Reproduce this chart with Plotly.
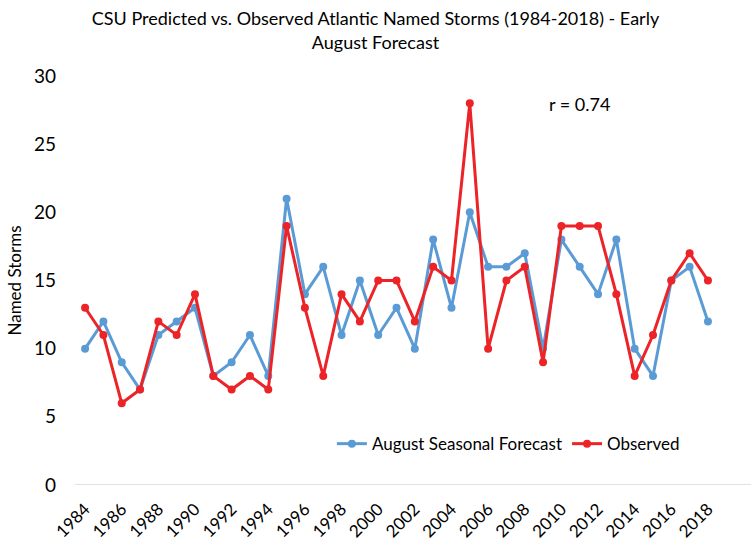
import plotly.graph_objects as go

years = list(range(1984, 2019))
forecast = [10, 12, 9, 7, 11, 12, 13, 8, 9, 11, 8, 21, 14, 16, 11, 15, 11, 13, 10, 18,
            13, 20, 16, 16, 17, 10, 18, 16, 14, 18, 10, 8, 15, 16, 12]
observed = [13, 11, 6, 7, 12, 11, 14, 8, 7, 8, 7, 19, 13, 8, 14, 12, 15, 15, 12, 16,
            15, 28, 10, 15, 16, 9, 19, 19, 19, 14, 8, 11, 15, 17, 15]
tick_years = list(range(1984, 2019, 2))
y_ticks = [0, 5, 10, 15, 20, 25, 30]

FONT = "Lato, Carlito, Calibri, sans-serif"
BLUE = "#5B9BD5"
RED = "#EC2327"

fig = go.Figure()
fig.add_trace(go.Scatter(x=years, y=forecast, mode="lines+markers",
                         name="August Seasonal Forecast",
                         line=dict(color=BLUE, width=3),
                         marker=dict(color=BLUE, size=8)))
fig.add_trace(go.Scatter(x=years, y=observed, mode="lines+markers",
                         name="Observed",
                         line=dict(color=RED, width=3),
                         marker=dict(color=RED, size=8)))

fig.update_layout(
    width=751, height=542,
    margin=dict(l=75, r=0, t=76, b=57),
    paper_bgcolor="white", plot_bgcolor="white",
    font=dict(family=FONT, color="#000000", size=18),
    title=dict(text="CSU Predicted vs. Observed Atlantic Named Storms (1984-2018) - Early<br>August Forecast",
               x=0.5, xanchor="center", y=0.953, yanchor="top",
               font=dict(family=FONT, size=18, color="#000000")),
    showlegend=True,
    legend=dict(orientation="h", x=0.38, xanchor="left", y=0.1, yanchor="middle",
                bgcolor="rgba(0,0,0,0)", font=dict(size=17), itemwidth=30,
                tracegroupgap=0),
    xaxis=dict(range=[1983.45, 2020.35], tickmode="array", tickvals=tick_years,
               ticktext=[str(y) for y in tick_years], tickangle=-45,
               showgrid=False, zeroline=False, showline=False, ticks="",
               ticklabelstandoff=10,
               tickfont=dict(size=17), automargin=False),
    yaxis=dict(range=[0, 30], tickmode="array", tickvals=y_ticks,
               showgrid=False, zeroline=False, showline=False, ticks="",
               ticklabelstandoff=18,
               tickfont=dict(size=19), automargin=False,
               title=dict(text="Named Storms", font=dict(family=FONT, size=17), standoff=8)),
    shapes=[dict(type="line", xref="paper", yref="y", x0=0, x1=1, y0=0, y1=0,
                 line=dict(color="#D9D9D9", width=1.5), layer="below")],
    annotations=[dict(text="r = 0.74", xref="paper", yref="paper",
                      x=(547 - 75) / 676, y=(485 - 104) / 409, xanchor="left",
                      yanchor="middle", showarrow=False, font=dict(size=18))],
)

fig.write_html("out.html", config={"displayModeBar": False},
               post_script="document.body.style.margin='0px';")
